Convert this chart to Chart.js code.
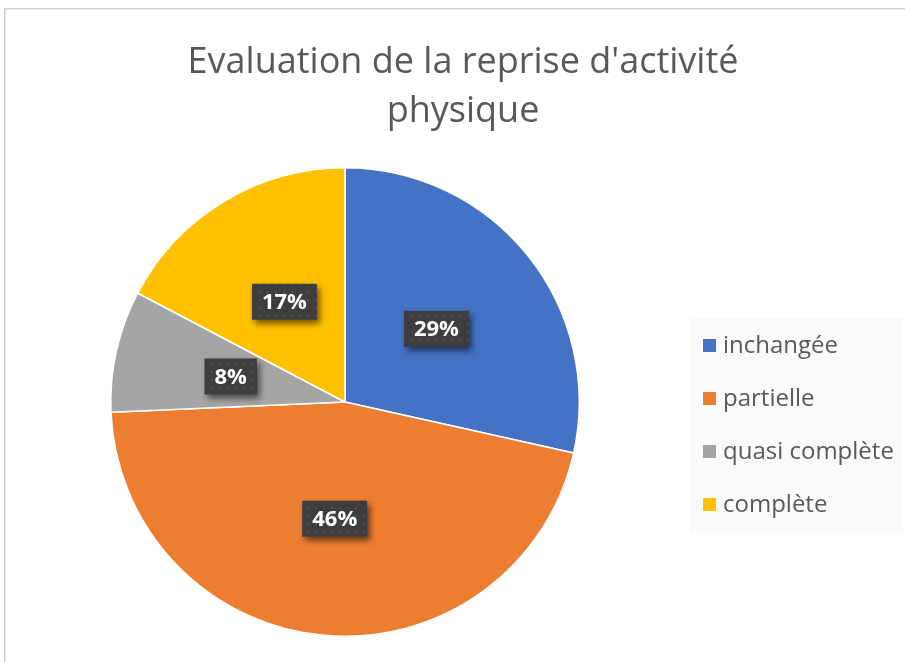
<!DOCTYPE html>
<html>
<head>
<meta charset="utf-8">
<script src="https://cdn.jsdelivr.net/npm/chart.js@4.4.0/dist/chart.umd.min.js"></script>
<style>
  html, body { margin: 0; padding: 0; background: #fff; }
  canvas { display: block; }
</style>
</head>
<body>
<canvas id="pie" width="905" height="662"></canvas>
<script>
// data
const categories = ['inchangée', 'partielle', 'quasi complète', 'complète'];
const shares = [28.5, 45.8, 8.4, 17.3];
const pctLabels = ['29%', '46%', '8%', '17%'];
const titleLines = ["Evaluation de la reprise d'activité", 'physique'];

const sliceColors = ['#4472C4', '#ED7D31', '#A5A5A5', '#FFC000'];

// dotted dark fill for the data labels
function makeDotPattern(ctx) {
  const c = document.createElement('canvas');
  c.width = 8; c.height = 8;
  const p = c.getContext('2d');
  p.fillStyle = '#3d3d3d';
  p.fillRect(0, 0, 8, 8);
  p.fillStyle = '#4c4c4c';
  p.fillRect(3, 3, 2, 2);
  return ctx.createPattern(c, 'repeat');
}

const decorations = {
  id: 'decorations',
  beforeDraw(chart) {
    const ctx = chart.ctx;
    ctx.save();
    ctx.fillStyle = '#ffffff';
    ctx.fillRect(0, 0, chart.width, chart.height);
    // chart frame (goes off the right and bottom edges)
    ctx.strokeStyle = '#cfcfcf';
    ctx.lineWidth = 1.5;
    ctx.strokeRect(4.75, 8.75, chart.width + 20, chart.height + 20);
    ctx.restore();
  },
  afterDatasetsDraw(chart) {
    const ctx = chart.ctx;
    const arcs = chart.getDatasetMeta(0).data;
    const pattern = makeDotPattern(ctx);
    ctx.save();
    ctx.font = 'bold 22px "Open Sans"';
    ctx.textAlign = 'center';
    ctx.textBaseline = 'middle';
    arcs.forEach((arc, i) => {
      const pt = arc.getCenterPoint();
      const txt = pctLabels[i];
      const w = ctx.measureText(txt).width + 20;
      const h = 36;
      const x = pt.x - w / 2, y = pt.y - h / 2;
      ctx.save();
      ctx.shadowColor = 'rgba(0,0,0,0.55)';
      ctx.shadowBlur = 6;
      ctx.shadowOffsetX = 3;
      ctx.shadowOffsetY = 4;
      ctx.fillStyle = pattern;
      ctx.fillRect(x, y, w, h);
      ctx.restore();
      ctx.fillStyle = '#ffffff';
      ctx.fillText(txt, pt.x, pt.y + 1);
    });
    ctx.restore();
  },
  afterDraw(chart) {
    const ctx = chart.ctx;
    ctx.save();
    // title
    ctx.fillStyle = '#595959';
    ctx.font = '400 36px "Open Sans"';
    ctx.textAlign = 'center';
    ctx.textBaseline = 'alphabetic';
    ctx.fillText(titleLines[0], 463, 73);
    ctx.fillText(titleLines[1], 463, 122);

    // legend
    ctx.fillStyle = '#fafafa';
    ctx.fillRect(690, 318, 213, 215);
    ctx.font = '24px "Open Sans"';
    ctx.textAlign = 'left';
    ctx.textBaseline = 'middle';
    categories.forEach((name, i) => {
      const cy = 346 + i * 53;
      ctx.fillStyle = sliceColors[i];
      ctx.fillRect(703, cy - 7, 13, 13);
      ctx.fillStyle = '#595959';
      ctx.fillText(name, 723, cy);
    });
    ctx.restore();
  }
};

new Chart(document.getElementById('pie'), {
  type: 'pie',
  data: {
    labels: categories,
    datasets: [{
      data: shares,
      backgroundColor: sliceColors,
      borderColor: '#ffffff',
      borderWidth: 1.5
    }]
  },
  options: {
    responsive: false,
    animation: false,
    devicePixelRatio: 1,
    layout: { padding: { top: 167, bottom: 25, left: 110, right: 325 } },
    plugins: {
      legend: { display: false },
      title: { display: false },
      tooltip: { enabled: false }
    }
  },
  plugins: [decorations]
});
</script>
</body>
</html>
